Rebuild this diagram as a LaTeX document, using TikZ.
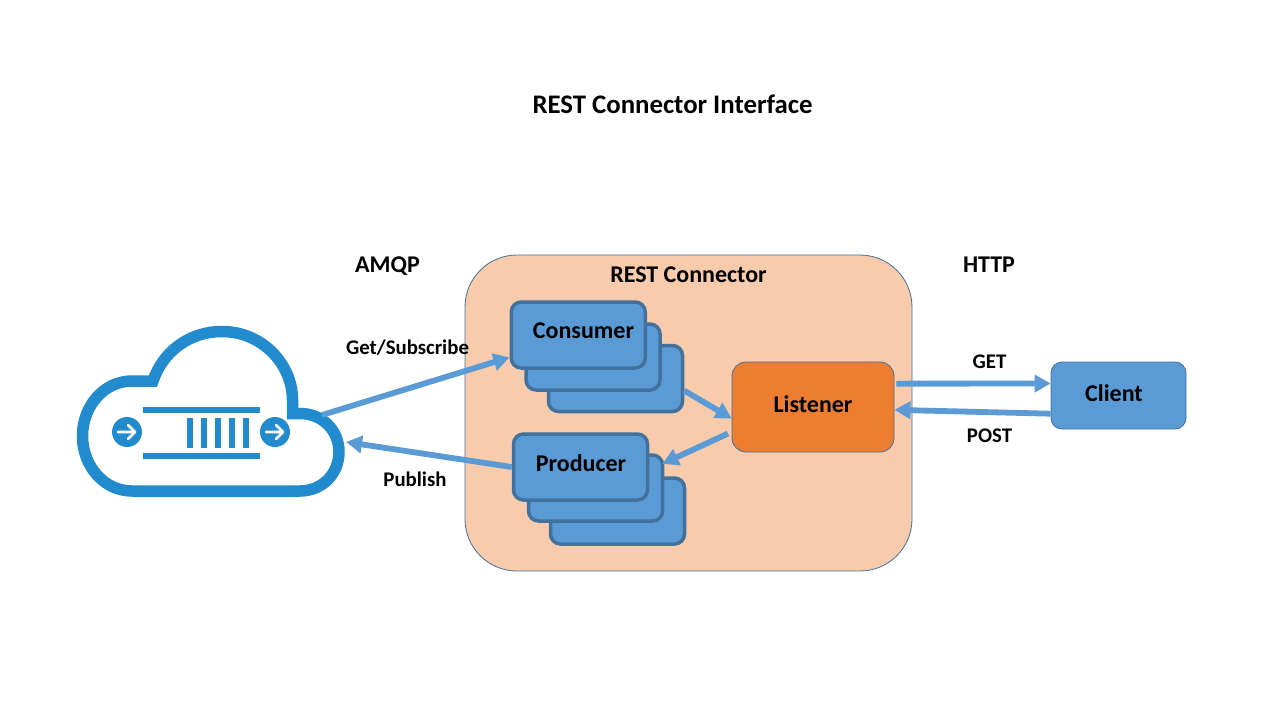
\documentclass[tikz,border=0pt]{standalone}
\usepackage{fontspec}
\setmainfont{Carlito}
\usetikzlibrary{arrows.meta}
\definecolor{cloudblue}{HTML}{218BCD}
\definecolor{boxblue}{HTML}{5B9BD5}
\definecolor{edgeblue}{HTML}{41719C}
\definecolor{peach}{HTML}{F8CBAD}
\definecolor{orangefill}{HTML}{ED7D31}
\tikzset{
  x=1pt,y=-1pt,
  txt/.style={font=\bfseries\fontsize{24}{28}\selectfont,text=black,inner sep=0pt},
  small/.style={font=\bfseries\fontsize{20.8}{24}\selectfont,text=black,inner sep=0pt},
  title/.style={font=\bfseries\fontsize{26.8}{30}\selectfont,text=black,inner sep=0pt},
  stack/.style={draw=edgeblue,fill=boxblue,line width=3.5pt,rounded corners=10pt,inner sep=0pt,minimum width=134pt,minimum height=66pt},
  flat/.style={draw=edgeblue,line width=0.8pt,inner sep=0pt},
  flow/.style={draw=boxblue,line width=5.8pt,-{Triangle[length=16pt,width=17pt]}},
  bar/.style={fill=cloudblue,draw=none}
}
\begin{document}
\begin{tikzpicture}
\useasboundingbox (0,0) rectangle (1280,720);
\fill[white] (0,0) rectangle (1280,720);
% container
\node[flat,fill=peach,rounded corners=52pt,minimum width=447pt,minimum height=316pt] (rest) at (688.5,413) {};
% cloud
\draw[cloudblue,line width=11.5pt,miter limit=10]
 (132,491) .. controls (104,491) and (82.5,466) .. (82.5,436)
 .. controls (82.5,406) and (104,381) .. (132,381) -- (153,381)
 .. controls (163,351) and (190,331.5) .. (222,331.5)
 .. controls (262,331.5) and (292.5,364) .. (292.5,400) -- (292.5,413.5) -- (300,413.5)
 .. controls (322,413.5) and (339,430) .. (339,452)
 .. controls (339,474) and (322,491) .. (300,491) -- cycle;
\fill[bar] (143,407) rectangle (260,413);
\fill[bar] (143,453) rectangle (260,459);
\fill[bar] (187,418) rectangle (193,448);
\fill[bar] (201,418) rectangle (207,448);
\fill[bar] (215,418) rectangle (221,448);
\fill[bar] (229,418) rectangle (235,448);
\fill[bar] (243,418) rectangle (249,448);
\fill[bar] (127,432) circle[radius=15];
\fill[bar] (275,432) circle[radius=15];
\draw[white,line width=2.6pt,line cap=round,line join=round] (118,432) -- (135,432) (128,425) -- (135,432) -- (128,439);
\draw[white,line width=2.6pt,line cap=round,line join=round] (266,432) -- (283,432) (276,425) -- (283,432) -- (276,439);
\coordinate (cloudout) at (322,415);
\coordinate (cloudin) at (346,442);
% stacks
\node[stack] (consumerC) at (615.5,378.5) {};
\node[stack] (consumerB) at (593,357) {};
\node[stack] (consumerA) at (578.25,335) {};
\node[stack] (producerC) at (617.5,511) {};
\node[stack] (producerB) at (595.5,488) {};
\node[stack] (producerA) at (580.5,467) {};
\node[flat,fill=orangefill,rounded corners=14pt,minimum width=162pt,minimum height=90pt] (listener) at (813,407) {};
\node[flat,fill=boxblue,rounded corners=11pt,minimum width=135pt,minimum height=67pt] (client) at (1118.5,395.5) {};
% connectors
\draw[flow] (cloudout) -- (consumerA.198);
\draw[flow] (producerA.west) -- (cloudin);
\draw[flow] (consumerC.-10) -- (listener.188.5);
\draw[flow,shorten <=4pt,shorten >=-2pt] (listener.197.4) -- (producerB.20.4);
\draw[flow,shorten <=2pt] (listener.16.7) -- (client.170.3);
\draw[flow] (client.195.3) -- (listener.-2.8);
% labels
\node[title] (ttl) at (672.5,104.5) {REST Connector Interface};
\node[txt] (amqp) at (387.5,266.5) {AMQP};
\node[txt] (http) at (989,264.5) {HTTP};
\node[txt] (restl) at (688.5,275) {REST Connector};
\node[txt] (cons) at (583.5,331) {Consumer};
\node[txt] (prod) at (581,463) {Producer};
\node[txt] (list) at (813,404) {Listener};
\node[txt] (clnt) at (1114,393) {Client};
\node[small] (gs) at (407.5,347.5) {Get/Subscribe};
\node[small] (pub) at (415,479) {Publish};
\node[small] (gt) at (989.5,362) {GET};
\node[small] (pst) at (989.5,436) {POST};
\end{tikzpicture}
\end{document}
